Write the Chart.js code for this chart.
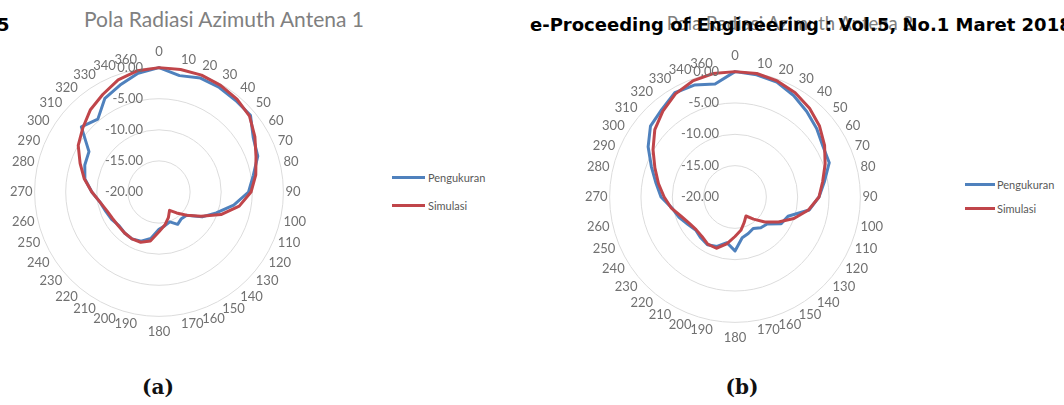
<!DOCTYPE html>
<html>
<head>
<meta charset="utf-8">
<script src="https://cdn.jsdelivr.net/npm/chart.js@4.4.1/dist/chart.umd.min.js"></script>
<style>
    body { margin: 0; width: 1064px; height: 405px; overflow: hidden; background: #fff; position: relative; }
    .abs { position: absolute; white-space: nowrap; line-height: 1; }
    .mid { transform: translate(-50%, -50%); }
    .vmid { transform: translateY(-50%); }
    .hdr { font: bold 18px "DejaVu Sans"; color: #000; z-index: 5; }
    .title { font-family: Lato, sans-serif; color: #808080; }
    .cap { font: bold 20px "DejaVu Serif"; color: #111; }
    .leg { font: 11px Lato, sans-serif; color: #595959; }
    .sw { position: absolute; height: 3px; }
    canvas { position: absolute; }
</style>
</head>
<body>
<div class="abs title mid" style="left:224px; top:18px; font-size:21px;">Pola Radiasi Azimuth Antena 1</div>
<div class="abs title mid" style="left:790px; top:23px; font-size:18.5px;">Pola Radiasi Azimuth Antena 2</div>
<div class="abs hdr vmid" style="left:-3px; top:24px;">5</div>
<div class="abs hdr vmid" style="left:530px; top:24px;">e-Proceeding of Engineering : Vol.5, No.1 Maret 2018</div>

<canvas id="chartA"></canvas>
<canvas id="chartB"></canvas>

<div class="sw" style="left:392px; top:176px; width:33px; background:#4f81bd;"></div>
<div class="abs leg vmid" style="left:428px; top:177px;">Pengukuran</div>
<div class="sw" style="left:392px; top:204px; width:33px; background:#c0454a;"></div>
<div class="abs leg vmid" style="left:428px; top:205px;">Simulasi</div>

<div class="sw" style="left:965px; top:183px; width:30px; background:#4f81bd;"></div>
<div class="abs leg vmid" style="left:997px; top:184px;">Pengukuran</div>
<div class="sw" style="left:965px; top:207px; width:30px; background:#c0454a;"></div>
<div class="abs leg vmid" style="left:997px; top:208px;">Simulasi</div>

<div class="abs cap mid" style="left:158px; top:387px;">(a)</div>
<div class="abs cap mid" style="left:742px; top:387px;">(b)</div>

<script>
const angles = ['0', '10', '20', '30', '40', '50', '60', '70', '80', '90', '100', '110', '120', '130', '140', '150', '160', '170',
    '180', '190', '200', '210', '220', '230', '240', '250', '260', '270', '280', '290', '300', '310', '320', '330', '340', '360'];

// Antena 1
const pengukuranA = [0, -1.0, -0.5, -0.6, -0.8, -0.8, -2.5, -3.1, -4.6, -5.6, -7.8, -10.2, -12.0, -14.2, -14.4, -14.0, -14.9, -14.5,
    -14.0, -12.4, -11.6, -11.3, -11.4, -11.6, -11.2, -10.9, -10.4, -9.2, -7.9, -7.3, -7.0, -3.7, -4.7, -2.6, -1.7, -0.6];
const simulasiA = [0, 0, 0, -0.2, -0.5, -1.0, -2.2, -3.4, -4.2, -5.2, -6.9, -9.4, -12.2, -14.2, -15.6, -16.6, -15.6, -14.6,
    -13.6, -12.0, -11.4, -11.3, -11.4, -11.5, -11.4, -11.1, -10.4, -9.2, -7.8, -6.5, -5.0, -4.0, -2.8, -1.9, -0.8, -0.2];

// Antena 2
const pengukuranB = [0, -0.2, -0.5, -1.3, -2.2, -3.0, -3.8, -4.0, -5.5, -6.6, -8.0, -11.0, -11.5, -13.3, -13.6, -14.2, -13.8, -13.4,
    -11.4, -12.6, -11.6, -11.2, -11.5, -11.8, -11.3, -10.5, -9.8, -8.2, -7.2, -5.8, -4.0, -2.4, -1.8, -0.8, -1.0, -1.7];
const simulasiB = [0, 0, -0.3, -0.8, -1.5, -2.4, -3.5, -4.7, -5.8, -6.6, -8.1, -10.0, -12.0, -13.8, -15.4, -16.5, -15.7, -14.6,
    -13.7, -12.4, -11.3, -11.3, -11.8, -11.9, -11.6, -10.9, -9.7, -8.7, -7.6, -6.4, -4.9, -3.3, -2.1, -1.0, -0.3, 0];

const rMin = -20, rMax = 0, rStep = 5;

const BLUE = '#4f81bd';
const RED = '#c0454a';
const GREY = '#707070';

// Excel-style value labels, left of the vertical axis
const tickLabels = {
    id: 'tickLabels',
    afterDatasetsDraw(chart) {
        const s = chart.scales.r;
        const ctx = chart.ctx;
        ctx.save();
        ctx.font = '13px Lato';
        ctx.fillStyle = GREY;
        ctx.textAlign = 'right';
        ctx.textBaseline = 'middle';
        s.ticks.forEach(t => {
            ctx.fillText(t.value.toFixed(2), s.xCenter - 16, s.yCenter - s.getDistanceFromCenterForValue(t.value));
        });
        ctx.restore();
    }
};

function config(peng, sim) {
    return {
        type: 'radar',
        data: {
            labels: angles,
            datasets: [
                { label: 'Pengukuran', data: peng, borderColor: BLUE, borderWidth: 3, pointRadius: 0, fill: false, order: 1 },
                { label: 'Simulasi', data: sim, borderColor: RED, borderWidth: 3, pointRadius: 0, fill: false, order: 0 }
            ]
        },
        options: {
            responsive: false,
            animation: false,
            layout: { padding: 0 },
            elements: { line: { tension: 0, borderJoinStyle: 'round' } },
            plugins: { legend: { display: false }, tooltip: { enabled: false } },
            scales: {
                r: {
                    min: rMin,
                    max: rMax,
                    ticks: { display: false, stepSize: rStep },
                    grid: { circular: true, color: '#dcdcdc', lineWidth: 1 },
                    angleLines: { display: false },
                    pointLabels: {
                        font: { family: 'Lato', size: 13 },
                        color: GREY,
                        // top and bottom labels sit further out, as Excel does
                        padding: (c) => (c.index % 18 === 0 ? 8 : 2)
                    }
                }
            }
        },
        plugins: [tickLabels]
    };
}

// size the canvas until the radar has the wanted radius, then move it onto the wanted centre
function drawRadar(id, cx, cy, radius, peng, sim) {
    const cv = document.getElementById(id);
    let size = 2 * radius + 50;
    let chart;
    for (let k = 0; k < 4; k++) {
        cv.width = size;
        cv.height = size;
        cv.style.width = size + 'px';
        cv.style.height = size + 'px';
        chart = new Chart(cv, config(peng, sim));
        const s = chart.scales.r;
        cv.style.left = (cx - s.xCenter) + 'px';
        cv.style.top = (cy - s.yCenter) + 'px';
        const d = radius - s.drawingArea;
        if (Math.abs(d) < 1) break;
        chart.destroy();
        size += Math.round(d * 2);
    }
    return chart;
}

drawRadar('chartA', 159, 192, 124, pengukuranA, simulasiA);
drawRadar('chartB', 735, 197, 125, pengukuranB, simulasiB);
</script>
</body>
</html>
